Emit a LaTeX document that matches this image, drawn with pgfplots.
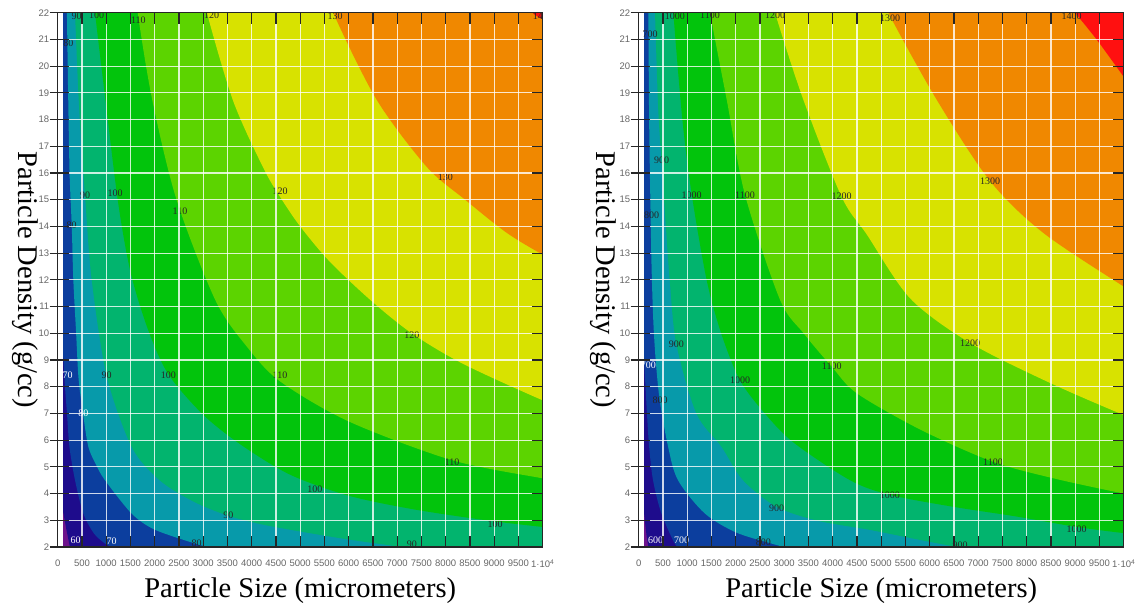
\documentclass[border=0pt]{standalone}
\usepackage{fontspec}
\setmainfont{Liberation Serif}
\newfontfamily\tsans{Liberation Sans}
\usepackage{pgfplots}
\pgfplotsset{compat=1.18}
\definecolor{cP}{HTML}{6E148C}
\definecolor{cN}{HTML}{1E0C8C}
\definecolor{cB}{HTML}{0C3E9E}
\definecolor{cT}{HTML}{079AAA}
\definecolor{cTG}{HTML}{02B46E}
\definecolor{cG}{HTML}{02C40C}
\definecolor{cYG}{HTML}{5CD400}
\definecolor{cY}{HTML}{D8E200}
\definecolor{cO}{HTML}{F08800}
\definecolor{cR}{HTML}{FF1010}
\tikzset{
  lab/.style={font=\fontsize{10}{10}\selectfont, text=black!85, inner sep=0pt},
  wlab/.style={lab, text=white},
}
\pgfplotsset{
  cbase/.style={scale only axis, width=485pt, height=534.3pt, anchor=south west,
    xmin=0, xmax=10000, ymin=2, ymax=22, scaled x ticks=false, scaled y ticks=false},
  cplot/.style={cbase, axis on top,
    xtick={0,500,...,10000},
    xticklabels={0,500,1000,1500,2000,2500,3000,3500,4000,4500,5000,5500,6000,6500,7000,7500,8000,8500,9000,9500,1·10\textsuperscript{4}},
    ytick={2,3,...,22},
    yticklabels={2,3,4,5,6,7,8,9,10,11,12,13,14,15,16,17,18,19,20,21,22},
    tick align=inside, major tick length=11pt,
    tick style={black!85, line width=1.1pt},
    grid=major, grid style={white, line width=1.1pt, opacity=0.8},
    axis line style={black!85, line width=1.2pt},
    xticklabel style={font=\tsans\fontsize{9.5}{10}\selectfont, text=black!60, yshift=-9pt},
    yticklabel style={font=\tsans\fontsize{9.5}{10}\selectfont, text=black!60, xshift=-5pt},
    xlabel={Particle Size (micrometers)},
    ylabel={Particle Density (g/cc)},
    every axis x label/.style={at={(axis description cs:0.5,-0.0824)}, anchor=center, font=\fontsize{28.5}{30}\selectfont},
  },
  ylab/.style={every axis y label/.style={at={(axis description cs:#1,0.5)}, anchor=center, rotate=-90, font=\fontsize{28.5}{30}\selectfont}},
  lticks/.style={cbase, hide x axis, axis y line*=left, ytick={2,3,...,22},
    yticklabels={},
    ytick align=outside, major tick length=8pt, tick style={black!85, line width=1.1pt},
    axis line style={black!85, line width=1.2pt}},
  band/.style={draw=none, smooth, forget plot},
}
\begin{document}
\begin{tikzpicture}
% ================= LEFT =================
\begin{axis}[cplot, ylab=-0.0674, at={(57.7pt,58pt)}]
\addplot[fill=cP, draw=none, forget plot] coordinates {(-3000,-3) (13000,-3) (13000,30) (-3000,30)};
\addplot[band, fill=cN] coordinates {(50,3.5) (100,3.4) (185,2.6) (254,2.0) (330,1.6)}
  -- (axis cs:13000,-3) -- (axis cs:13000,30) -- (axis cs:-3000,30) -- cycle;
\addplot[band, fill=cB] coordinates {(50,10.5) (100,9.5) (150,8.0) (192,7.0) (242,5.75) (357,4.5) (529,3.25) (750,2.5) (975,2.13) (1100,2.0) (1300,1.8)}
  -- (axis cs:13000,-3) -- (axis cs:13000,30) -- (axis cs:-3000,30) -- cycle;
\addplot[band, fill=cT] coordinates {(180,23) (190,22) (215,19) (245,16) (290,14) (322,12) (380,10) (430,8.3) (522,7.0) (632,5.75) (800,5.05) (975,4.5) (1525,3.25) (2000,2.65) (2831,2.13) (3100,2.0) (3500,1.8)}
  -- (axis cs:13000,-3) -- (axis cs:13000,30) -- (axis cs:-3000,30) -- cycle;
\addplot[band, fill=cTG] coordinates {(340,23) (357,22) (440,18.5) (563,15.17) (701,12) (1010,8.4) (1525,5.75) (2100,4.5) (2800,3.7) (3500,3.18) (4200,2.85) (5000,2.58) (6000,2.28) (7100,2.0) (7600,1.88)}
  -- (axis cs:13000,-3) -- (axis cs:13000,30) -- (axis cs:-3000,30) -- cycle;
\addplot[band, fill=cG] coordinates {(740,23) (770,22) (1000,18.5) (1245,14.9) (1500,12.3) (1850,10.2) (2276,8.48) (3000,6.95) (3800,5.8) (4800,4.7) (6000,3.92) (7336,3.41) (8874,2.99) (10000,2.75) (10600,2.65)}
  -- (axis cs:13000,30) -- (axis cs:-3000,30) -- cycle;
\addplot[band, fill=cYG] coordinates {(1620,23) (1650,22) (1950,18.73) (2450,15.0) (3250,11.24) (3900,9.5) (4584,8.2) (6000,6.7) (8130,5.25) (10000,4.57) (10600,4.4)}
  -- (axis cs:13000,30) -- (axis cs:-3000,30) -- cycle;
\addplot[band, fill=cY] coordinates {(2990,23) (3076,22) (3617,18.7) (4237,16.2) (4587,15.1) (5000,14.0) (5600,12.7) (6450,11.24) (7300,10.0) (8364,8.85) (10000,7.49) (10600,7.1)}
  -- (axis cs:13000,30) -- (axis cs:-3000,30) -- cycle;
\addplot[band, fill=cO] coordinates {(5550,23) (5680,22) (6577,18.74) (7608,16.23) (8400,15.0) (9258,13.76) (10000,12.94) (10600,12.35)}
  -- (axis cs:13000,30) -- (axis cs:-3000,30) -- cycle;
\addplot[band, fill=cR] coordinates {(9700,22.5) (9790,22) (10000,21.75) (10300,21.4)}
  -- (axis cs:13000,30) -- (axis cs:-3000,30) -- cycle;
\addplot[fill=white, draw=none, forget plot] coordinates {(-500,0) (100,0) (100,24) (-500,24)};
\node[wlab] at (axis cs:371,2.25) {60};
\node[wlab] at (axis cs:1113,2.2) {70};
\node[wlab] at (axis cs:206,8.43) {70};
\node[wlab] at (axis cs:529,7.0) {80};
\node[lab] at (axis cs:219,20.87) {80};
\node[lab] at (axis cs:289,14.05) {80};
\node[lab] at (axis cs:2866,2.15) {80};
\node[lab] at (axis cs:392,21.85) {90};
\node[lab] at (axis cs:563,15.17) {90};
\node[lab] at (axis cs:1010,8.43) {90};
\node[lab] at (axis cs:3518,3.19) {90};
\node[lab] at (axis cs:7300,2.1) {90};
\node[lab] at (axis cs:804,21.9) {100};
\node[lab] at (axis cs:1182,15.24) {100};
\node[lab] at (axis cs:2282,8.43) {100};
\node[lab] at (axis cs:5305,4.16) {100};
\node[lab] at (axis cs:9017,2.85) {100};
\node[lab] at (axis cs:1663,21.73) {110};
\node[lab] at (axis cs:2522,14.55) {110};
\node[lab] at (axis cs:4584,8.43) {110};
\node[lab] at (axis cs:8130,5.17) {110};
\node[lab] at (axis cs:3175,21.9) {120};
\node[lab] at (axis cs:4584,15.3) {120};
\node[lab] at (axis cs:7300,9.93) {120};
\node[lab] at (axis cs:5718,21.85) {130};
\node[lab] at (axis cs:7991,15.86) {130};
\node[lab] at (axis cs:9950,21.85) {140};
\end{axis}
\begin{axis}[lticks, at={(57.7pt,58pt)}]
\end{axis}
% ================= RIGHT =================
\begin{axis}[cplot, ylab=-0.073, at={(638.7pt,58pt)}]
\addplot[fill=cP, draw=none, forget plot] coordinates {(-3000,-3) (13000,-3) (13000,30) (-3000,30)};
\addplot[band, fill=cN] coordinates {(50,3.5) (100,3.4) (150,2.6) (200,2.0) (260,1.6)}
  -- (axis cs:13000,-3) -- (axis cs:13000,30) -- (axis cs:-3000,30) -- cycle;
\addplot[band, fill=cB] coordinates {(50,10.5) (100,9.2) (140,8.0) (170,7.0) (215,5.76) (295,4.5) (467,3.26) (742,2.13) (850,2.0) (1000,1.8)}
  -- (axis cs:13000,-3) -- (axis cs:13000,30) -- (axis cs:-3000,30) -- cycle;
\addplot[band, fill=cT] coordinates {(185,23) (198,22) (215,18) (240,15) (265,12.5) (300,10.5) (350,9) (433,7.5) (605,5.76) (810,4.5) (1360,3.26) (2000,2.55) (2735,2.13) (3000,2.0) (3400,1.82)}
  -- (axis cs:13000,-3) -- (axis cs:13000,30) -- (axis cs:-3000,30) -- cycle;
\addplot[band, fill=cTG] coordinates {(320,23) (336,22) (400,18.5) (474,16.3) (560,14) (639,12) (775,9.6) (1189,7.0) (1704,5.76) (2150,4.5) (2846,3.5) (3700,2.98) (4768,2.64) (5700,2.3) (6557,2.0) (7200,1.8)}
  -- (axis cs:13000,-3) -- (axis cs:13000,30) -- (axis cs:-3000,30) -- cycle;
\addplot[band, fill=cG] coordinates {(690,23) (714,22) (900,18) (1093,15.2) (1400,12) (1700,10) (2085,8.25) (2600,7.0) (3200,5.9) (4357,4.5) (5181,3.95) (6500,3.5) (7794,3.14) (9031,2.75) (10000,2.52) (10600,2.42)}
  -- (axis cs:13000,30) -- (axis cs:-3000,30) -- cycle;
\addplot[band, fill=cYG] coordinates {(1400,23) (1470,22) (1815,18.74) (2192,15.18) (2914,11.25) (3400,10) (3980,8.75) (4500,7.75) (5800,6.4) (7305,5.19) (8600,4.55) (10000,4.0) (10600,3.8)}
  -- (axis cs:13000,30) -- (axis cs:-3000,30) -- cycle;
\addplot[band, fill=cY] coordinates {(2700,23) (2811,22) (3395,18.74) (4186,15.1) (4702,13.7) (5600,11.3) (6832,9.64) (8482,8.14) (10000,6.94) (10600,6.55)}
  -- (axis cs:13000,30) -- (axis cs:-3000,30) -- cycle;
\addplot[band, fill=cO] coordinates {(4950,23) (5147,22) (6145,18.74) (7244,15.7) (8340,13.76) (10000,11.75) (10600,11.1)}
  -- (axis cs:13000,30) -- (axis cs:-3000,30) -- cycle;
\addplot[band, fill=cR] coordinates {(8800,22.45) (8997,22) (9444,20.99) (10000,19.6) (10400,18.6)}
  -- (axis cs:13000,30) -- (axis cs:-3000,30) -- cycle;
\addplot[fill=white, draw=none, forget plot] coordinates {(-500,0) (100,0) (100,24) (-500,24)};
\node[wlab] at (axis cs:350,2.27) {600};
\node[wlab] at (axis cs:887,2.26) {700};
\node[wlab] at (axis cs:198,8.82) {700};
\node[lab] at (axis cs:233,21.18) {700};
\node[lab] at (axis cs:268,14.43) {800};
\node[lab] at (axis cs:439,7.51) {800};
\node[lab] at (axis cs:2570,2.16) {800};
\node[lab] at (axis cs:474,16.49) {900};
\node[lab] at (axis cs:775,9.6) {900};
\node[lab] at (axis cs:2846,3.45) {900};
\node[lab] at (axis cs:6625,2.07) {900};
\node[lab] at (axis cs:748,21.86) {1000};
\node[lab] at (axis cs:1093,15.15) {1000};
\node[lab] at (axis cs:2089,8.25) {1000};
\node[lab] at (axis cs:5181,3.95) {1000};
\node[lab] at (axis cs:9031,2.67) {1000};
\node[lab] at (axis cs:1470,21.9) {1100};
\node[lab] at (axis cs:2192,15.15) {1100};
\node[lab] at (axis cs:3980,8.75) {1100};
\node[lab] at (axis cs:7305,5.19) {1100};
\node[lab] at (axis cs:2811,21.9) {1200};
\node[lab] at (axis cs:4186,15.12) {1200};
\node[lab] at (axis cs:6832,9.64) {1200};
\node[lab] at (axis cs:5182,21.8) {1300};
\node[lab] at (axis cs:7244,15.7) {1300};
\node[lab] at (axis cs:8928,21.86) {1400};
\end{axis}
\begin{axis}[lticks, at={(638.7pt,58pt)}]
\end{axis}
\pgfresetboundingbox
\path[use as bounding box] (0,0) rectangle (1143pt,605pt);
\end{tikzpicture}
\end{document}
